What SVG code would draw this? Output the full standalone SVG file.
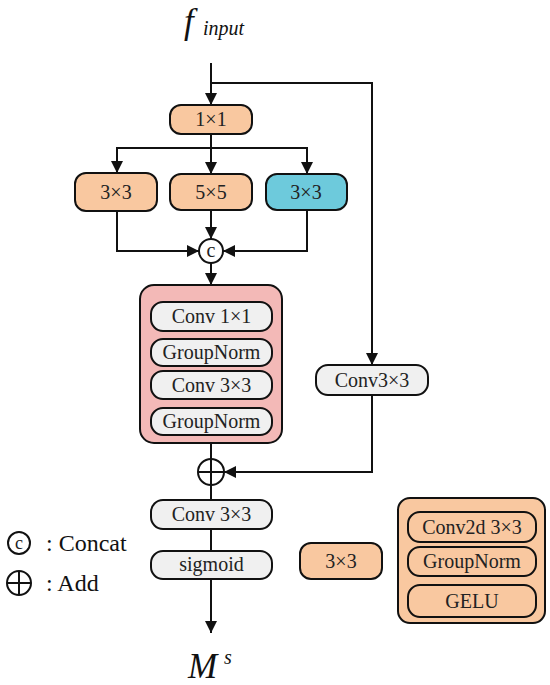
<svg xmlns="http://www.w3.org/2000/svg" width="550" height="685" viewBox="0 0 550 685">
<style>
.box{stroke:#111;stroke-width:2}
.or{fill:#F9C8A0}
.cy{fill:#6DCADC}
.gr{fill:#F0F0F0}
.pk{fill:#F3B9B7}
.t{font-family:"Liberation Serif",serif;font-size:20px;fill:#222;text-anchor:middle}
.ln{fill:none;stroke:#111;stroke-width:2}
.it{font-family:"Liberation Serif",serif;font-style:italic;fill:#111}
.lg{font-family:"Liberation Serif",serif;font-size:24px;fill:#111}
</style>
<defs>
<marker id="ah" viewBox="0 0 12 12" refX="12" refY="6" markerWidth="12" markerHeight="12" markerUnits="userSpaceOnUse" orient="auto">
<path d="M0,0 L12,6 L0,12 Z" fill="#111"/>
</marker>
</defs>
<rect width="550" height="685" fill="#fff"/>

<g id="connectors">
<path class="ln" d="M211,63 V105" marker-end="url(#ah)"/>
<path class="ln" d="M211,83 H372 V365" marker-end="url(#ah)"/>
<path class="ln" d="M211,134 V174" marker-end="url(#ah)"/>
<path class="ln" d="M117,173 V148 H307 V174" marker-end="url(#ah)"/>
<path class="ln" d="M117,148 V173" marker-end="url(#ah)"/>
<path class="ln" d="M117,211 V251 H199" marker-end="url(#ah)"/>
<path class="ln" d="M211,210 V239" marker-end="url(#ah)"/>
<path class="ln" d="M307,210 V251 H223" marker-end="url(#ah)"/>
<path class="ln" d="M211,263 V285" marker-end="url(#ah)"/>
<path class="ln" d="M211,443 V459"/>
<path class="ln" d="M372,395 V472 H224" marker-end="url(#ah)"/>
<path class="ln" d="M211,485 V500"/>
<path class="ln" d="M211,529 V551"/>
<path class="ln" d="M211,579 V633" marker-end="url(#ah)"/>
</g>

<g id="input"><text class="it" x="184" y="33" font-size="35">f</text><text class="it" x="203" y="35" font-size="20">input</text></g>

<g id="n1x1"><rect class="box or" x="170" y="105" width="82" height="29" rx="11"/><text class="t" x="211" y="126">1×1</text></g>
<g id="n3x3a"><rect class="box or" x="75" y="173" width="82" height="38" rx="11"/><text class="t" x="116" y="199">3×3</text></g>
<g id="n5x5"><rect class="box or" x="170" y="174" width="82" height="36" rx="11"/><text class="t" x="211" y="199">5×5</text></g>
<g id="n3x3b"><rect class="box cy" x="266" y="174" width="81" height="36" rx="11"/><text class="t" x="306" y="199">3×3</text></g>

<g id="concat"><circle cx="211" cy="251" r="12" fill="#fff" stroke="#111" stroke-width="2"/><text x="211" y="257" font-family="Liberation Serif,serif" font-size="20" text-anchor="middle" fill="#222">c</text></g>

<g id="block">
<rect class="box pk" x="140" y="285" width="142" height="158" rx="14"/>
<rect class="box gr" x="151" y="302" width="121" height="29" rx="12"/><text class="t" x="211.5" y="323">Conv 1×1</text>
<rect class="box gr" x="151" y="339" width="121" height="27" rx="12"/><text class="t" x="211.5" y="359">GroupNorm</text>
<rect class="box gr" x="151" y="371" width="121" height="28" rx="12"/><text class="t" x="211.5" y="392">Conv 3×3</text>
<rect class="box gr" x="151" y="408" width="121" height="27" rx="12"/><text class="t" x="211.5" y="428">GroupNorm</text>
</g>

<g id="conv3r"><rect class="box gr" x="316" y="365" width="112" height="30" rx="12"/><text class="t" x="372" y="387">Conv3×3</text></g>

<g id="add"><circle cx="211" cy="472" r="13" fill="#fff" stroke="#111" stroke-width="2"/><path d="M198,472 H224 M211,459 V485" stroke="#111" stroke-width="2"/></g>

<g id="conv3b"><rect class="box gr" x="151" y="500" width="121" height="29" rx="12"/><text class="t" x="211.5" y="521">Conv 3×3</text></g>
<g id="sigmoid"><rect class="box gr" x="151" y="551" width="121" height="28" rx="12"/><text class="t" x="211.5" y="571">sigmoid</text></g>

<g id="output"><text class="it" x="188" y="678" font-size="35">M</text><text class="it" x="224" y="664" font-size="20">s</text></g>

<g id="legend">
<circle cx="19" cy="543" r="11" fill="#fff" stroke="#111" stroke-width="2"/><text x="19" y="549" font-family="Liberation Serif,serif" font-size="18" text-anchor="middle" fill="#222">c</text>
<text class="lg" x="46" y="551">: Concat</text>
<circle cx="19" cy="583" r="12" fill="#fff" stroke="#111" stroke-width="2"/><path d="M7,583 H31 M19,571 V595" stroke="#111" stroke-width="2"/>
<text class="lg" x="46" y="591">: Add</text>
</g>

<g id="key3x3"><rect class="box or" x="300" y="543" width="82" height="36" rx="11"/><text class="t" x="341" y="568">3×3</text></g>

<g id="keyblock">
<rect class="box or" x="398" y="498" width="147" height="125" rx="12"/>
<rect class="box or" x="408" y="512" width="128" height="30" rx="12"/><text class="t" x="472" y="534">Conv2d 3×3</text>
<rect class="box or" x="408" y="547" width="128" height="29" rx="12"/><text class="t" x="472" y="568">GroupNorm</text>
<rect class="box or" x="408" y="585" width="128" height="32" rx="12"/><text class="t" x="472" y="608">GELU</text>
</g>
</svg>
